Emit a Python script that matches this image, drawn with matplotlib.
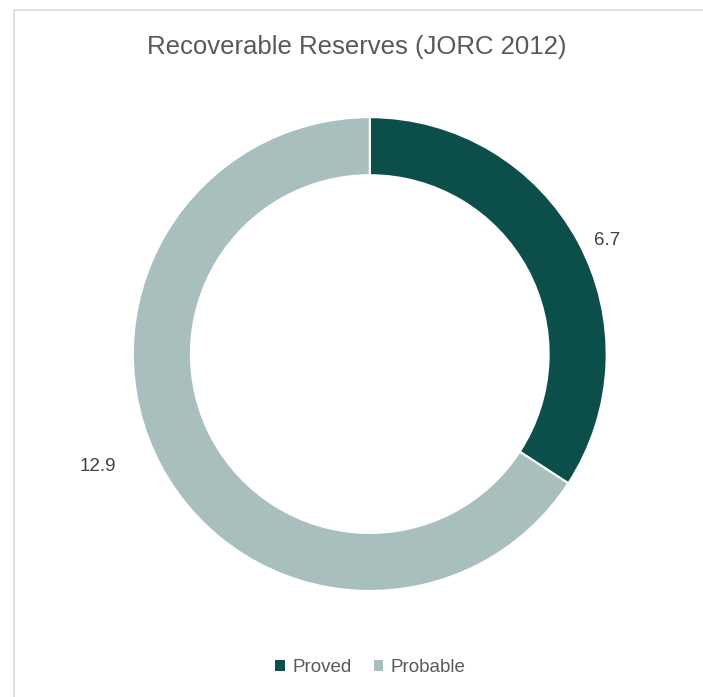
import matplotlib.pyplot as plt
from matplotlib.patches import Rectangle, Patch
import numpy as np

categories = ['Proved', 'Probable']
values = [6.7, 12.9]
value_labels = ['6.7', '12.9']
colors = ['#0b4e4a', '#a8bfbe']

plt.rcParams['font.family'] = ['Liberation Sans', 'DejaVu Sans']

fig = plt.figure(figsize=(7.03, 6.97), dpi=100)
fig.patch.set_facecolor('white')

# light chart border
fig.add_artist(Rectangle((14 / 703, -0.01), 1.0, (697 - 10) / 697 + 0.01,
                         transform=fig.transFigure, fill=False,
                         edgecolor='#d9d9d9', linewidth=1.2))

ax = fig.add_axes([0.189, 0.152, 0.674, 0.680])
wedges, _ = ax.pie(values, colors=colors, startangle=90, counterclock=False,
                   wedgeprops=dict(width=0.245, edgecolor='white', linewidth=1.5))
ax.set_xlim(-1, 1)
ax.set_ylim(-1, 1)
ax.set_aspect('equal')

# data labels outside the ring
dists = [1.11, 1.24]
shifts = [-3, -6]
for w, lab, d, s in zip(wedges, value_labels, dists, shifts):
    ang = np.deg2rad((w.theta1 + w.theta2) / 2 + s)
    ax.text(d * np.cos(ang), d * np.sin(ang), lab, ha='center', va='center',
            fontsize=13.5, color='#404040')

fig.text(0.508, 0.932, 'Recoverable Reserves (JORC 2012)', ha='center',
         va='center', fontsize=18.5, color='#595959')

handles = [Patch(facecolor=c, edgecolor='none', label=n)
           for c, n in zip(colors, categories)]
fig.legend(handles=handles, loc='center', bbox_to_anchor=(0.527, 0.042),
           ncol=2, frameon=False, fontsize=13.5, handlelength=0.5,
           handleheight=0.5, handletextpad=0.4, columnspacing=1.2,
           labelcolor='#595959')

fig.savefig('out.png', dpi=100)
